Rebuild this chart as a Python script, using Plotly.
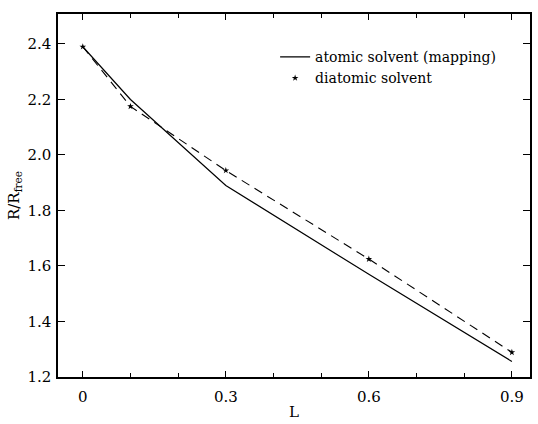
import plotly.graph_objects as go

# Solvent-size dependence of the ratio R/R_free
L_atomic = [0.0, 0.1, 0.3, 0.6, 0.9]
R_atomic = [2.39, 2.20, 1.89, 1.57, 1.256]

L_diatomic = [0.0, 0.1, 0.3, 0.6, 0.9]
R_diatomic = [2.39, 2.175, 1.944, 1.625, 1.289]

x_ticks = [0, 0.3, 0.6, 0.9]
x_ticklabels = ["0", "0.3", "0.6", "0.9"]
y_ticks = [1.2, 1.4, 1.6, 1.8, 2.0, 2.2, 2.4]
y_ticklabels = ["1.2", "1.4", "1.6", "1.8", "2.0", "2.2", "2.4"]

FONT = "DejaVu Serif"

fig = go.Figure()

fig.add_trace(go.Scatter(
    x=L_atomic, y=R_atomic, mode="lines",
    name="atomic solvent (mapping)",
    line=dict(color="black", width=1.2),
))
fig.add_trace(go.Scatter(
    x=L_diatomic, y=R_diatomic, mode="lines+markers",
    name="diatomic solvent", showlegend=False,
    line=dict(color="black", width=1.1, dash="9px,6px"),
    marker=dict(symbol="star", size=5, color="black"),
))
# legend entry: marker only
fig.add_trace(go.Scatter(
    x=[None], y=[None], mode="markers",
    name="diatomic solvent",
    marker=dict(symbol="star", size=5, color="black"),
))

axis_common = dict(
    showline=True, linecolor="black", linewidth=1.5,
    mirror="ticks", ticks="inside", tickcolor="black",
    showgrid=False, zeroline=False,
    tickfont=dict(family=FONT, size=15, color="black"),
)

fig.update_xaxes(
    range=[-0.052, 0.938],
    tickvals=x_ticks, ticktext=x_ticklabels,
    ticklen=6, tickwidth=1, ticklabelstandoff=5,
    minor=dict(dtick=0.1, tick0=0, ticks="inside", ticklen=4, tickcolor="black", tickwidth=1),
    title=dict(text="L", font=dict(family=FONT, size=15, color="black"), standoff=2),
    **axis_common,
)
fig.update_yaxes(
    range=[1.2, 2.508],
    tickvals=y_ticks, ticktext=y_ticklabels,
    ticklen=7, tickwidth=1, ticklabelstandoff=2,
    title=dict(text="R/R<sub>free</sub>", font=dict(family=FONT, size=15, color="black"), standoff=4),
    **axis_common,
)

fig.update_layout(
    width=538, height=424,
    margin=dict(l=58, r=6, t=14, b=41),
    paper_bgcolor="white", plot_bgcolor="white",
    font=dict(family=FONT, color="black"),
    legend=dict(
        x=0.46, y=0.925, xanchor="left", yanchor="top",
        bgcolor="rgba(0,0,0,0)", borderwidth=0,
        font=dict(family=FONT, size=14, color="black"),
        itemwidth=30, tracegroupgap=0,
    ),
)

fig.write_html("out.html")
